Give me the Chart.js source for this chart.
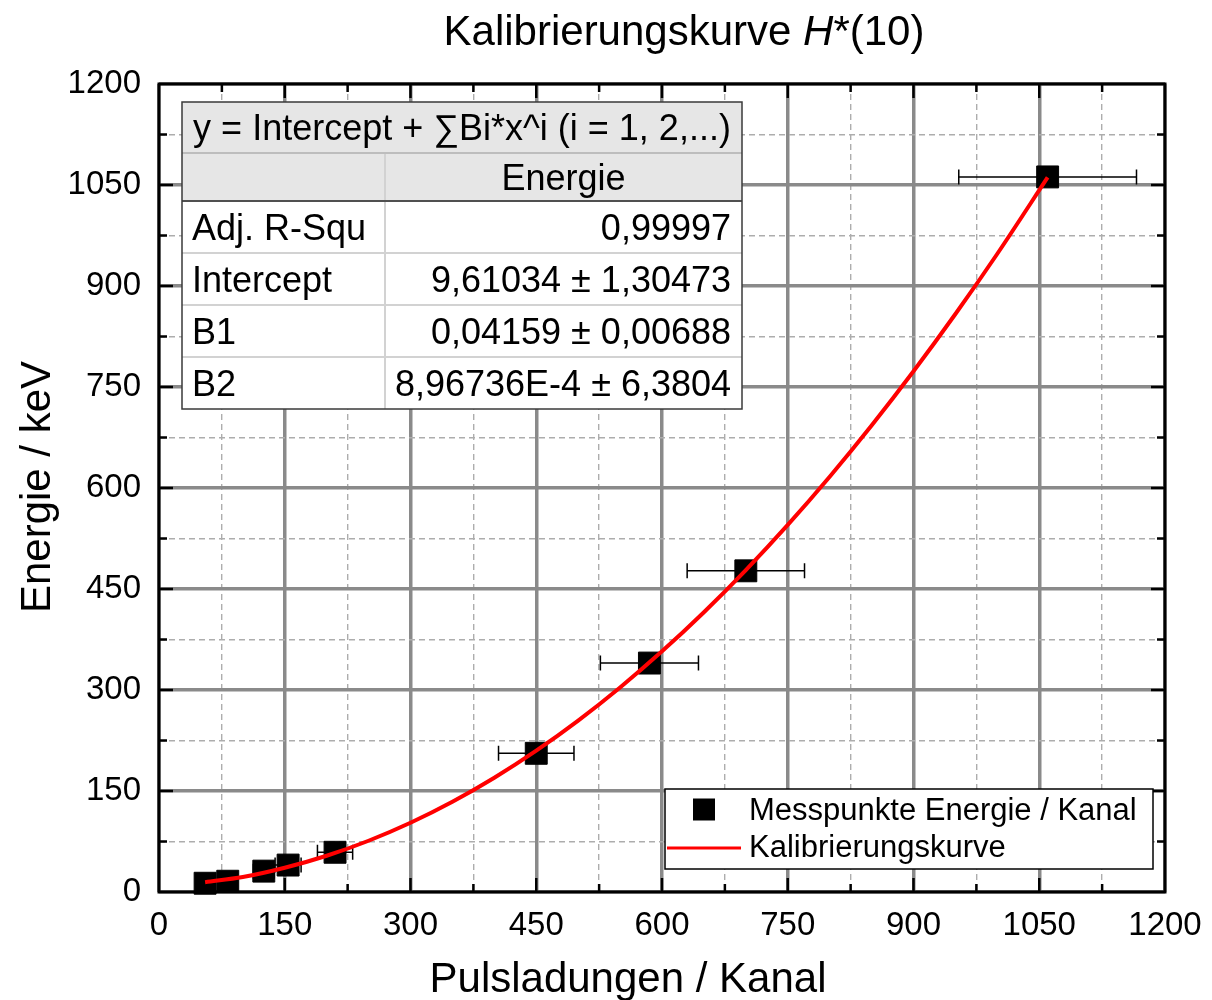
<!DOCTYPE html>
<html>
<head>
<meta charset="utf-8">
<title>Kalibrierungskurve H*(10)</title>
<script src="https://cdn.jsdelivr.net/npm/chart.js@4.4.1/dist/chart.umd.min.js"></script>
<style>
    html, body { margin: 0; padding: 0; background: #fff; }
    #wrap { width: 1212px; height: 1000px; }
</style>
</head>
<body>
<div id="wrap"><canvas id="chart" width="1212" height="1000"></canvas></div>
<script>
// Messpunkte: Pulsladung / Kanal, Energie / keV, Fehler in x
const pointsX = [55, 82, 125, 154, 210, 450, 585, 700, 1060];
const pointsY = [13, 16, 31, 40, 59, 206, 340, 477, 1062];
const pointsXErr = [5.5, 8, 12.5, 15.5, 21, 45, 58.5, 70, 106];

// Kalibrierungskurve
const curveX = [55, 100, 150, 200, 250, 300, 350, 400, 450, 500, 550, 600, 650, 700, 750, 800, 850, 900, 950, 1000, 1060];
const curveY = [14.6, 22.2, 36, 53.8, 76.1, 102.8, 134, 169.7, 209.9, 254.6, 303.8, 357.4, 415.5, 478.1, 545.2, 616.8, 692.9, 773.4, 858.4, 947.9, 1061.3];

// Achsen
const xTickLabels = [0, 150, 300, 450, 600, 750, 900, 1050, 1200];
const yTickLabels = [0, 150, 300, 450, 600, 750, 900, 1050, 1200];

// Fit-Tabelle
const fitEquation = 'y = Intercept + \u2211Bi*x^i (i = 1, 2,...)';
const fitColumn = 'Energie';
const fitNames = ['Adj. R-Squ', 'Intercept', 'B1', 'B2'];
const fitValues = ['0,99997', '9,61034 \u00b1 1,30473', '0,04159 \u00b1 0,00688', '8,96736E-4 \u00b1 6,3804'];

const FONT = '"Liberation Sans", Arial, sans-serif';

const isMajor = v => v % 150 === 0;

const decor = {
    id: 'decor',
    beforeDatasetsDraw(chart) {
        const { ctx, scales: { x, y } } = chart;
        ctx.save();
        ctx.strokeStyle = '#000';
        ctx.lineWidth = 1.5;
        pointsX.forEach((v, i) => {
            const py = y.getPixelForValue(pointsY[i]);
            const x1 = x.getPixelForValue(v - pointsXErr[i]);
            const x2 = x.getPixelForValue(v + pointsXErr[i]);
            ctx.beginPath();
            ctx.moveTo(x1, py); ctx.lineTo(x2, py);
            ctx.moveTo(x1, py - 7.5); ctx.lineTo(x1, py + 7.5);
            ctx.moveTo(x2, py - 7.5); ctx.lineTo(x2, py + 7.5);
            ctx.stroke();
        });
        ctx.restore();
    },
    afterDraw(chart) {
        const { ctx, chartArea: a, scales: { x, y } } = chart;
        ctx.save();

        // Rahmen
        ctx.strokeStyle = '#000';
        ctx.lineWidth = 3;
        ctx.strokeRect(a.left, a.top, a.right - a.left, a.bottom - a.top);

        // Ticks nach innen
        ctx.lineWidth = 2.5;
        ctx.beginPath();
        for (let v = 75; v < 1200; v += 75) {
            const len = isMajor(v) ? 14 : 8;
            const px = x.getPixelForValue(v);
            ctx.moveTo(px, a.bottom); ctx.lineTo(px, a.bottom - len);
            ctx.moveTo(px, a.top); ctx.lineTo(px, a.top + len);
            const py = y.getPixelForValue(v);
            ctx.moveTo(a.left, py); ctx.lineTo(a.left + len, py);
            ctx.moveTo(a.right, py); ctx.lineTo(a.right - len, py);
        }
        ctx.stroke();

        // Tabelle
        const tx = a.left + 23, ty = a.top + 18, tw = 560, col = 203;
        const rows = [51, 48, 52, 52, 52, 52];
        const th = rows.reduce((s, r) => s + r, 0);
        const tops = [];
        rows.reduce((acc, r) => { tops.push(acc); return acc + r; }, ty);

        ctx.fillStyle = '#fff';
        ctx.fillRect(tx, ty, tw, th);
        ctx.fillStyle = '#e6e6e6';
        ctx.fillRect(tx, ty, tw, rows[0] + rows[1]);

        ctx.lineWidth = 2;
        ctx.strokeStyle = '#d2d2d2';
        ctx.beginPath();
        ctx.moveTo(tx + col, tops[1]); ctx.lineTo(tx + col, ty + th);
        [3, 4, 5].forEach(i => { ctx.moveTo(tx, tops[i]); ctx.lineTo(tx + tw, tops[i]); });
        ctx.stroke();
        ctx.strokeStyle = '#bdbdbd';
        ctx.beginPath();
        ctx.moveTo(tx, tops[1]); ctx.lineTo(tx + tw, tops[1]);
        ctx.stroke();
        ctx.strokeStyle = '#505050';
        ctx.beginPath();
        ctx.moveTo(tx, tops[2]); ctx.lineTo(tx + tw, tops[2]);
        ctx.stroke();
        ctx.lineWidth = 1.5;
        ctx.strokeStyle = '#3a3a3a';
        ctx.strokeRect(tx, ty, tw, th);

        ctx.fillStyle = '#000';
        ctx.font = '36px ' + FONT;
        ctx.textBaseline = 'alphabetic';
        const base = i => tops[i] + rows[i] / 2 + 12.5;
        ctx.textAlign = 'center';
        ctx.fillText(fitEquation, tx + tw / 2, base(0));
        ctx.fillText(fitColumn, tx + col + (tw - col) / 2, base(1));
        fitNames.forEach((n, i) => {
            ctx.textAlign = 'left';
            ctx.fillText(n, tx + 10, base(i + 2));
            ctx.textAlign = 'right';
            ctx.fillText(fitValues[i], tx + tw - 11, base(i + 2));
        });

        // Legende
        const lx = a.right - 500, ly = a.bottom - 103, lw = 488, lh = 80;
        const ds = chart.data.datasets;
        ctx.fillStyle = '#fff';
        ctx.fillRect(lx, ly, lw, lh);
        ctx.lineWidth = 1.5;
        ctx.strokeStyle = '#000';
        ctx.strokeRect(lx, ly, lw, lh);
        ctx.fillStyle = ds[1].backgroundColor;
        ctx.fillRect(lx + 28, ly + 9.5, 22, 22);
        ctx.strokeStyle = ds[0].borderColor;
        ctx.lineWidth = 3;
        ctx.beginPath();
        ctx.moveTo(lx + 2, ly + 59); ctx.lineTo(lx + 76, ly + 59);
        ctx.stroke();
        ctx.fillStyle = '#000';
        ctx.font = '31px ' + FONT;
        ctx.textAlign = 'left';
        ctx.fillText(ds[1].label, lx + 84, ly + 31);
        ctx.fillText(ds[0].label, lx + 84, ly + 68);

        // Titel
        const TF = '42px ' + FONT, TFI = 'italic 42px ' + FONT;
        ctx.font = TF;
        const t1 = 'Kalibrierungskurve ', t3 = '*(10)';
        const w1 = ctx.measureText(t1).width, w3 = ctx.measureText(t3).width;
        ctx.font = TFI;
        const w2 = ctx.measureText('H').width;
        const sx = 684 - (w1 + w2 + w3) / 2;
        ctx.textAlign = 'left';
        ctx.font = TF;
        ctx.fillText(t1, sx, 45);
        ctx.font = TFI;
        ctx.fillText('H', sx + w1, 45);
        ctx.font = TF;
        ctx.fillText(t3, sx + w1 + w2, 45);

        // Achsentitel
        ctx.textAlign = 'center';
        ctx.fillText('Pulsladungen / Kanal', 628, 992);
        ctx.translate(50, 487);
        ctx.rotate(-Math.PI / 2);
        ctx.fillText('Energie / keV', 0, 0);

        ctx.restore();
    }
};

const gridOpts = {
    drawTicks: false,
    color: c => isMajor(c.tick.value) ? '#8a8a8a' : '#adadad',
    lineWidth: c => isMajor(c.tick.value) ? 3.5 : 1.4
};
const borderOpts = {
    display: false,
    dash: c => isMajor(c.tick.value) ? [] : [6, 4]
};

new Chart(document.getElementById('chart'), {
    type: 'scatter',
    data: {
        datasets: [{
            label: 'Kalibrierungskurve',
            data: curveX.map((v, i) => ({ x: v, y: curveY[i] })),
            showLine: true,
            borderColor: '#ff0000',
            borderWidth: 4,
            pointRadius: 0,
            cubicInterpolationMode: 'monotone',
            clip: false,
            order: 0
        }, {
            label: 'Messpunkte Energie / Kanal',
            data: pointsX.map((v, i) => ({ x: v, y: pointsY[i] })),
            pointStyle: 'rect',
            pointRadius: 15.5,
            backgroundColor: '#000',
            borderColor: '#000',
            borderWidth: 1,
            clip: false,
            order: 1
        }]
    },
    options: {
        responsive: false,
        animation: false,
        events: [],
        layout: { padding: { top: 84, right: 47, left: 0, bottom: 0 } },
        plugins: {
            legend: { display: false },
            title: { display: false },
            tooltip: { enabled: false }
        },
        scales: {
            x: {
                type: 'linear',
                min: 0,
                max: 1200,
                afterFit: s => { s.height = 108; s.paddingLeft = 0; s.paddingRight = 0; },
                grid: gridOpts,
                border: borderOpts,
                ticks: {
                    stepSize: 75,
                    autoSkip: false,
                    maxRotation: 0,
                    padding: 14,
                    color: '#000',
                    font: { family: FONT, size: 33 },
                    callback: v => xTickLabels.includes(v) ? String(v) : ''
                }
            },
            y: {
                type: 'linear',
                min: 0,
                max: 1200,
                afterFit: s => { s.width = 159; s.paddingTop = 0; s.paddingBottom = 0; },
                grid: gridOpts,
                border: borderOpts,
                ticks: {
                    stepSize: 75,
                    autoSkip: false,
                    padding: 18,
                    color: '#000',
                    font: { family: FONT, size: 33 },
                    callback: v => yTickLabels.includes(v) ? String(v) : ''
                }
            }
        }
    },
    plugins: [decor]
});
</script>
</body>
</html>
